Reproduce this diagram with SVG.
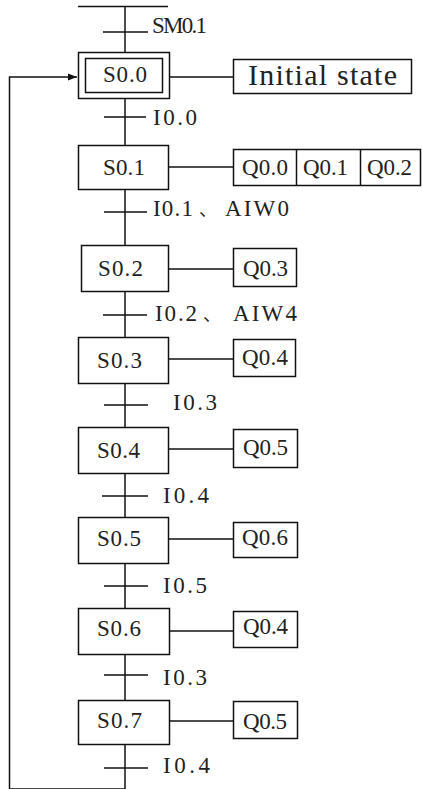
<svg xmlns="http://www.w3.org/2000/svg" width="422" height="789" viewBox="0 0 422 789">
<style>
.ln{stroke:#111;stroke-width:1.5;fill:none}
.bx{stroke:#111;stroke-width:1.5;fill:#fff}
.t{font-size:23px;fill:#222}
.cjk{font-family:"Noto Sans CJK SC",sans-serif;font-size:18px}
.big{font-size:30px;fill:#222}
</style>
<defs>
<marker id="ah" viewBox="0 0 10 10" refX="10" refY="5" markerWidth="10" markerHeight="9" markerUnits="userSpaceOnUse" orient="auto">
<path d="M0,1 L10,5 L0,9 Z" fill="#111"/>
</marker>
</defs>
<g id="connectors">
<line class="ln" x1="78" y1="6.5" x2="168" y2="6.5"/>
<line class="ln" x1="125" y1="6" x2="125" y2="789"/>
<path class="ln" d="M125,789 H9.5 V77 H77" marker-end="url(#ah)"/>
<line class="ln" x1="103" y1="32" x2="148" y2="32"/>
<line class="ln" x1="104" y1="117" x2="146" y2="117"/>
<line class="ln" x1="104" y1="212" x2="147" y2="212"/>
<line class="ln" x1="103" y1="315" x2="147" y2="315"/>
<line class="ln" x1="104" y1="405" x2="148" y2="405"/>
<line class="ln" x1="102" y1="496" x2="148" y2="496"/>
<line class="ln" x1="104" y1="586" x2="148" y2="586"/>
<line class="ln" x1="104" y1="675" x2="148" y2="675"/>
<line class="ln" x1="104" y1="768" x2="148" y2="768"/>
<line class="ln" x1="170" y1="77" x2="233" y2="77"/>
<line class="ln" x1="169" y1="167" x2="233" y2="167"/>
<line class="ln" x1="169" y1="269" x2="233" y2="269"/>
<line class="ln" x1="169" y1="359" x2="233" y2="359"/>
<line class="ln" x1="169" y1="449" x2="233" y2="449"/>
<line class="ln" x1="169" y1="539" x2="233" y2="539"/>
<line class="ln" x1="170" y1="631" x2="233" y2="631"/>
<line class="ln" x1="170" y1="721" x2="233" y2="721"/>
<g font-family="Liberation Serif, serif">
<text class="t" x="152" y="33" textLength="55">SM0.1</text>
<text class="t" x="153" y="125" textLength="44">I0.0</text>
<text class="t" y="216"><tspan x="153" textLength="40">I0.1</tspan><tspan class="cjk" x="199">、</tspan><tspan x="225" textLength="64">AIW0</tspan></text>
<text class="t" y="321"><tspan x="155" textLength="42">I0.2</tspan><tspan class="cjk" x="203">、</tspan><tspan x="233" textLength="64">AIW4</tspan></text>
<text class="t" x="173" y="410" textLength="44">I0.3</text>
<text class="t" x="163" y="503" textLength="46">I0.4</text>
<text class="t" x="163" y="593" textLength="44">I0.5</text>
<text class="t" x="163" y="685" textLength="44">I0.3</text>
<text class="t" x="163" y="773" textLength="47">I0.4</text>
</g>
</g>
<g font-family="Liberation Serif, serif">
<g id="S0.0">
<rect class="bx" x="78.5" y="52.5" width="91" height="46"/>
<rect class="bx" x="85.5" y="58.5" width="77" height="34"/>
<text class="t" x="103" y="82" textLength="44">S0.0</text>
</g>
<g id="initial">
<rect class="bx" x="233.5" y="59.5" width="178" height="34"/>
<text class="big" x="248" y="85" textLength="149">Initial state</text>
</g>
<g id="S0.1">
<rect class="bx" x="78.5" y="145.5" width="90" height="44"/>
<text class="t" x="103" y="175" textLength="42">S0.1</text>
</g>
<g id="Q-S0.1">
<rect class="bx" x="233.5" y="149.5" width="187" height="36"/>
<line class="ln" x1="296.5" y1="149.5" x2="296.5" y2="185.5"/>
<line class="ln" x1="360.5" y1="149.5" x2="360.5" y2="185.5"/>
<text class="t" x="242" y="175" textLength="46">Q0.0</text>
<text class="t" x="303" y="175" textLength="45">Q0.1</text>
<text class="t" x="367" y="175" textLength="45">Q0.2</text>
</g>
<g id="S0.2">
<rect class="bx" x="81.5" y="245.5" width="87" height="46"/>
<text class="t" x="98" y="276" textLength="45">S0.2</text>
</g>
<g id="Q0.3">
<rect class="bx" x="233.5" y="248.5" width="63" height="38"/>
<text class="t" x="243" y="276" textLength="45">Q0.3</text>
</g>
<g id="S0.3">
<rect class="bx" x="78.5" y="337.5" width="90" height="46"/>
<text class="t" x="97" y="368" textLength="45">S0.3</text>
</g>
<g id="Q0.4a">
<rect class="bx" x="233.5" y="339.5" width="62" height="37"/>
<text class="t" x="242" y="365" textLength="46">Q0.4</text>
</g>
<g id="S0.4">
<rect class="bx" x="78.5" y="427.5" width="90" height="46"/>
<text class="t" x="97" y="458" textLength="43">S0.4</text>
</g>
<g id="Q0.5a">
<rect class="bx" x="233.5" y="429.5" width="64" height="38"/>
<text class="t" x="243" y="455" textLength="45">Q0.5</text>
</g>
<g id="S0.5">
<rect class="bx" x="78.5" y="517.5" width="90" height="46"/>
<text class="t" x="97" y="546" textLength="44">S0.5</text>
</g>
<g id="Q0.6">
<rect class="bx" x="233.5" y="522.5" width="64" height="35"/>
<text class="t" x="242" y="545" textLength="46">Q0.6</text>
</g>
<g id="S0.6">
<rect class="bx" x="78.5" y="608.5" width="91" height="46"/>
<text class="t" x="97" y="636" textLength="44">S0.6</text>
</g>
<g id="Q0.4b">
<rect class="bx" x="233.5" y="611.5" width="64" height="36"/>
<text class="t" x="243" y="634" textLength="45">Q0.4</text>
</g>
<g id="S0.7">
<rect class="bx" x="78.5" y="700.5" width="91" height="44"/>
<text class="t" x="97" y="728" textLength="45">S0.7</text>
</g>
<g id="Q0.5b">
<rect class="bx" x="233.5" y="701.5" width="64" height="37"/>
<text class="t" x="243" y="729" textLength="44">Q0.5</text>
</g>
</g>
</svg>
